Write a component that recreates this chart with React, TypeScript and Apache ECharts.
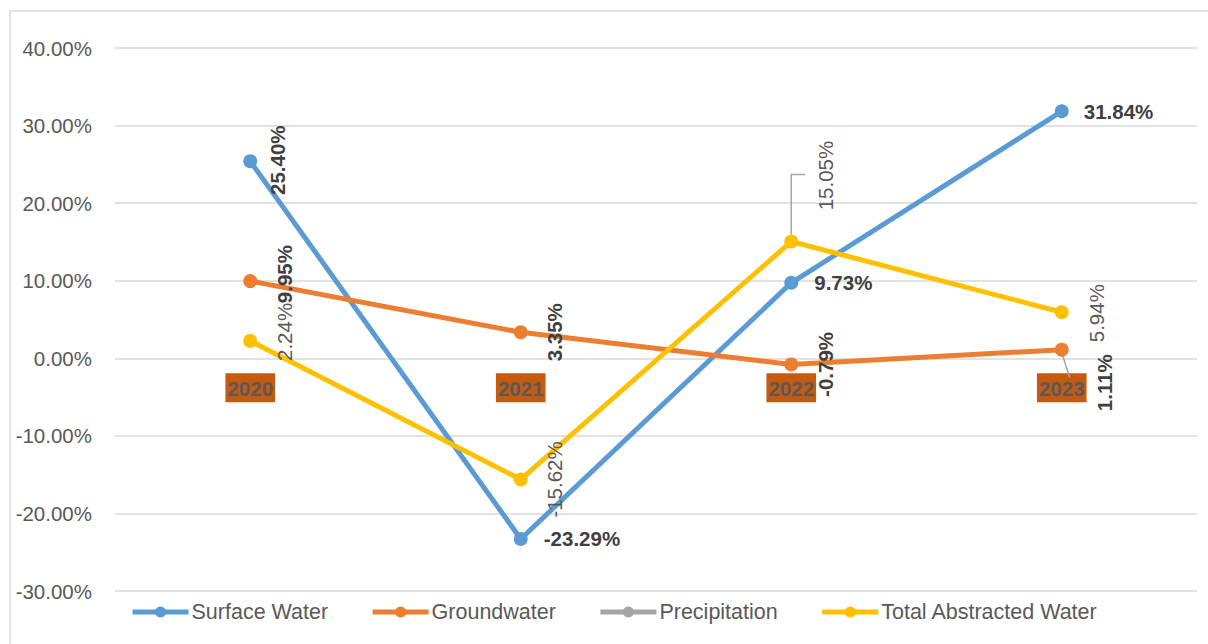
import React, { useEffect, useRef } from 'react';
import * as echarts from 'echarts';

const categories = ['2020', '2021', '2022', '2023'];
const surfaceWater = [25.4, -23.29, 9.73, 31.84];
const groundwater = [9.95, 3.35, -0.79, 1.11];
const precipitation: (number | null)[] = [null, null, null, null];
const totalAbstracted = [2.24, -15.62, 15.05, 5.94];
const yMin = -30;
const yMax = 40;
const yInterval = 10;

const FONT = '"Liberation Sans", Arial, sans-serif';
const DARK = '#404040';
const GREY = '#595959';

const fmt = (p: any) => Number(p.value).toFixed(2) + '%';

function rotLabel(dx: number, dy: number, bold: boolean, color: string) {
  return {
    show: true,
    position: 'inside',
    rotate: 90,
    align: 'center',
    verticalAlign: 'middle',
    offset: [-dy, dx],
    fontWeight: bold ? 'bold' : 'normal',
    color,
    fontSize: 20.5,
    fontFamily: FONT,
    formatter: fmt,
  };
}

function rightLabel(dist: number, bold: boolean, color: string) {
  return {
    show: true,
    position: 'right',
    distance: dist,
    fontWeight: bold ? 'bold' : 'normal',
    color,
    fontSize: 20.5,
    fontFamily: FONT,
    formatter: fmt,
  };
}

export default function App() {
  const ref = useRef<HTMLDivElement>(null);
  useEffect(() => {
    if (!ref.current) return;
    const chart = echarts.init(ref.current, undefined, { renderer: 'svg' });

    const swLabels = [
      rotLabel(27, -1, true, DARK),
      rightLabel(16, true, DARK),
      rightLabel(16, true, DARK),
      rightLabel(15, true, DARK),
    ];
    const gwLabels = [
      rotLabel(34, -7, true, DARK),
      rotLabel(34, 0, true, DARK),
      rotLabel(34, 0, true, DARK),
      rotLabel(43, 33, true, DARK),
    ];
    const taLabels = [
      rotLabel(34, -9, false, GREY),
      rotLabel(34, 0, false, GREY),
      rotLabel(34, -66, false, GREY),
      rotLabel(35, 1, false, GREY),
    ];

    const mk = (vals: (number | null)[], labels: any[]) =>
      vals.map((v, i) => ({ value: v, label: labels[i] }));

    const lineSeries = (name: string, color: string, data: any[]) => ({
      name,
      type: 'line',
      data,
      symbol: 'circle',
      symbolSize: 14,
      itemStyle: { color },
      lineStyle: { color, width: 5 },
      emphasis: { disabled: true },
      z: 3,
    });

    const border = {
      type: 'rect',
      shape: { x: 10, y: 11, width: 1300, height: 700 },
      style: { fill: 'none', stroke: '#D9D9D9', lineWidth: 1.5 },
      silent: true,
    };

    chart.setOption({
      animation: false,
      grid: { left: 115, right: 11, top: 48, bottom: 53, containLabel: false },
      legend: {
        bottom: 16,
        left: 125,
        itemWidth: 56,
        itemHeight: 14,
        itemGap: 42,
        lineStyle: { width: 5 },
        textStyle: { color: GREY, fontSize: 21.5, fontFamily: FONT, padding: [0, 0, 0, -2] },
        data: ['Surface Water', 'Groundwater', 'Precipitation', 'Total Abstracted Water'],
      },
      xAxis: {
        type: 'category',
        data: categories,
        boundaryGap: true,
        offset: 0,
        axisLine: { show: false },
        axisTick: { show: false },
        axisLabel: {
          margin: 15,
          color: GREY,
          fontWeight: 'bold',
          fontSize: 20.5,
          fontFamily: FONT,
          backgroundColor: '#C55A11',
          padding: [3, 2, 2, 2],
          lineHeight: 24,
        },
        splitLine: { show: false },
      },
      yAxis: {
        type: 'value',
        min: yMin,
        max: yMax,
        interval: yInterval,
        axisLine: { show: false },
        axisTick: { show: false },
        axisLabel: {
          margin: 23,
          color: GREY,
          fontSize: 20.5,
          fontFamily: FONT,
          formatter: (v: number) => v.toFixed(2) + '%',
        },
        splitLine: { lineStyle: { color: '#D9D9D9', width: 1.5 } },
      },
      graphic: [border],
      series: [
        lineSeries('Surface Water', '#5B9BD5', mk(surfaceWater, swLabels)),
        lineSeries('Groundwater', '#ED7D31', mk(groundwater, gwLabels)),
        lineSeries('Precipitation', '#A5A5A5', precipitation.map((v) => v)),
        lineSeries('Total Abstracted Water', '#FFC000', mk(totalAbstracted, taLabels)),
      ],
    });

    // place the category axis on the zero line, using the value axis scale
    const yZero = chart.convertToPixel({ yAxisIndex: 0 }, 0) as number;
    const yBottom = chart.convertToPixel({ yAxisIndex: 0 }, yMin) as number;
    // leader lines for moved labels, anchored to library pixel positions
    const pTA = chart.convertToPixel({ seriesIndex: 3 }, [2, totalAbstracted[2]]) as number[];
    const pGW = chart.convertToPixel({ seriesIndex: 1 }, [3, groundwater[3]]) as number[];
    chart.setOption({
      xAxis: { offset: -(yBottom - yZero) },
      graphic: [
        border,
        {
          type: 'polyline',
          shape: { points: [[pTA[0], pTA[1] - 7], [pTA[0], pTA[1] - 67], [pTA[0] + 14, pTA[1] - 67]] },
          style: { fill: 'none', stroke: '#A6A6A6', lineWidth: 1.5 },
          silent: true,
          z: 1,
        },
        {
          type: 'line',
          shape: { x1: pGW[0], y1: pGW[1] + 3, x2: pGW[0] + 8, y2: pGW[1] + 28 },
          style: { stroke: '#A6A6A6', lineWidth: 1.5 },
          silent: true,
          z: 1,
        },
      ],
    });

    return () => chart.dispose();
  }, []);
  return (
    <div
      ref={ref}
      style={{ position: 'absolute', left: 0, top: 0, width: 1208, height: 644, background: '#fff' }}
    />
  );
}
